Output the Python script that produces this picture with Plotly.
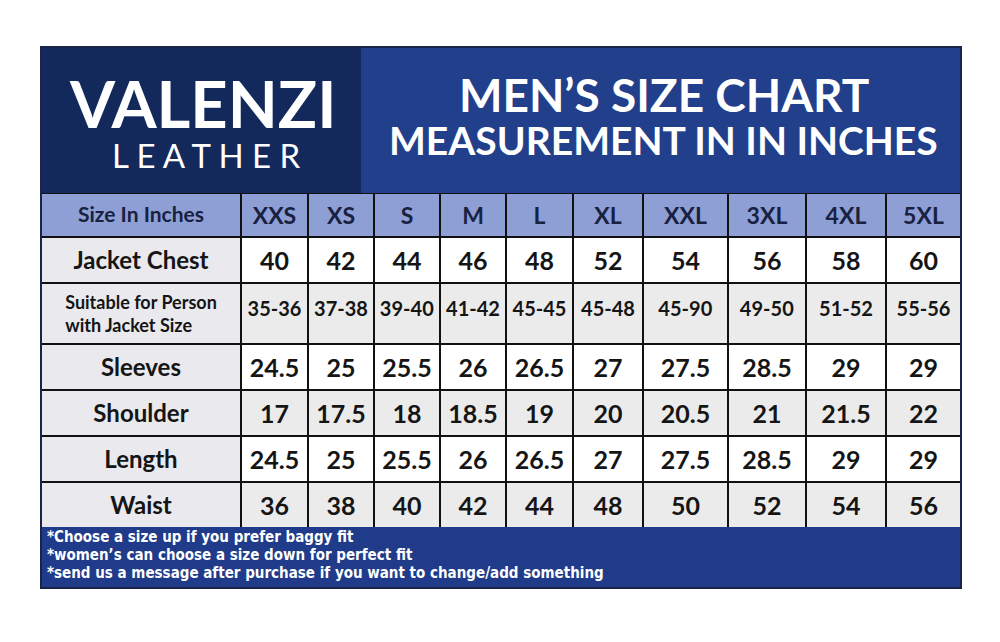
import plotly.graph_objects as go

# table data
sizes = ['XXS', 'XS', 'S', 'M', 'L', 'XL', 'XXL', '3XL', '4XL', '5XL']
row_labels = ['Jacket Chest', 'Suitable for Person<br>with Jacket Size', 'Sleeves',
              'Shoulder', 'Length', 'Waist']
jacket_chest = [40, 42, 44, 46, 48, 52, 54, 56, 58, 60]
suitable = ['35-36', '37-38', '39-40', '41-42', '45-45', '45-48', '45-90', '49-50', '51-52', '55-56']
sleeves = [24.5, 25, 25.5, 26, 26.5, 27, 27.5, 28.5, 29, 29]
shoulder = [17, 17.5, 18, 18.5, 19, 20, 20.5, 21, 21.5, 22]
length = [24.5, 25, 25.5, 26, 26.5, 27, 27.5, 28.5, 29, 29]
waist = [36, 38, 40, 42, 44, 48, 50, 52, 54, 56]
notes = ['*Choose a size up if you prefer baggy fit',
         '*women\u2019s can choose a size down for perfect fit',
         '*send us a message after purchase if you want to change/add something']

# page has an 8px body margin, so the figure is 984x626 placed at (8, 8)
W, H, OFF = 984, 626, 8
L, R = 41, 961
TOP, SPLIT, TBL_TOP, ROW1_BOT, TBL_BOT, BOT = 47, 361, 193, 283, 528, 588
colw = [200, 67, 66, 66, 66, 67, 70, 85, 78, 80, 75]
FONT = 'Lato'
LINE = dict(color='#111111', width=2)
label_fill = '#e9e9ee'
gray = '#ebebeb'


def px(x):
    return (x - OFF) / W


def py(y):
    return 1 - (y - OFF) / H


def b(v):
    return f'<b>{v}</b>'


def low(v, size=20):
    # empty small first line pushes the value down to the middle of the tall row
    return f'\u00a0<br><span style="font-size:{size}px"><b>{v}</b></span>'


fig = go.Figure()

# size header row + Jacket Chest row
fig.add_trace(go.Table(
    domain=dict(x=[px(L), px(R)], y=[py(ROW1_BOT), py(TBL_TOP)]),
    columnwidth=colw,
    header=dict(
        values=[b('Size In Inches')] + [b(s) for s in sizes],
        fill_color='#8e9fd6', line=LINE,
        font=dict(family=FONT, weight='bold', size=[21] + [23] * 10, color='#18213f'),
        align='center', height=44),
    cells=dict(
        values=[[b(row_labels[0])]] + [[b(v)] for v in jacket_chest],
        fill_color=[label_fill] + ['white'] * 10, line=LINE,
        font=dict(family=FONT, weight='bold', size=[24] + [25] * 10, color='#151515'),
        align='center', height=46),
))

# "Suitable for" row (as header of the second block) + remaining rows
rest = [sleeves, shoulder, length, waist]
fig.add_trace(go.Table(
    domain=dict(x=[px(L), px(R)], y=[py(TBL_BOT), py(ROW1_BOT)]),
    columnwidth=colw,
    header=dict(
        values=[b(row_labels[1])] + [low(v) for v in suitable],
        fill_color=[label_fill] + [gray] * 10, line=LINE,
        font=dict(family=FONT, weight='bold', size=[18] + [11] * 10, color='#151515'),
        align='center', height=61),
    cells=dict(
        values=[[b(t) for t in row_labels[2:]]] + [[b(r[i]) for r in rest] for i in range(len(sizes))],
        fill_color=[[label_fill] * 4] + [['white', gray, 'white', gray]] * 10,
        line=LINE,
        font=dict(family=FONT, weight='bold', size=[24] + [25] * 10, color='#151515'),
        align='center', height=46),
))

shapes = [
    dict(type='rect', x0=px(L), x1=px(SPLIT), y0=py(TBL_TOP), y1=py(TOP),
         fillcolor='#13295b', line=dict(width=0)),
    dict(type='rect', x0=px(SPLIT), x1=px(R), y0=py(TBL_TOP), y1=py(TOP),
         fillcolor='#213f8b', line=dict(width=0)),
    dict(type='rect', x0=px(L), x1=px(R), y0=py(BOT), y1=py(527),
         fillcolor='#1f3b89', line=dict(width=0)),
    dict(type='rect', x0=px(L), x1=px(R), y0=py(BOT), y1=py(TOP),
         line=dict(color='#1a2448', width=2)),
]


def label(x, y, text, size, weight='bold', family=FONT, anchor='center'):
    return dict(x=px(x), y=py(y), text=text, showarrow=False, xanchor=anchor, yanchor='middle',
                font=dict(family=family, size=size, weight=weight, color='white'))


annotations = [
    label(202, 103, 'VALENZI', 65),
    label(206, 155, 'L E A T H E R', 33, weight='normal'),
    label(664, 94, 'MEN\u2019S SIZE CHART', 46),
    label(663, 140, 'MEASUREMENT IN IN INCHES', 39),
]
for k, t in enumerate(notes):
    annotations.append(label(45, 537 + 18 * k, t, 15,
                             family='Liberation Sans Narrow, DejaVu Sans Condensed, Roboto',
                             anchor='left'))

fig.update_layout(
    width=W, height=H,
    margin=dict(l=0, r=0, t=0, b=0),
    paper_bgcolor='white',
    shapes=shapes,
    annotations=annotations,
)

fig.write_html("out.html")
